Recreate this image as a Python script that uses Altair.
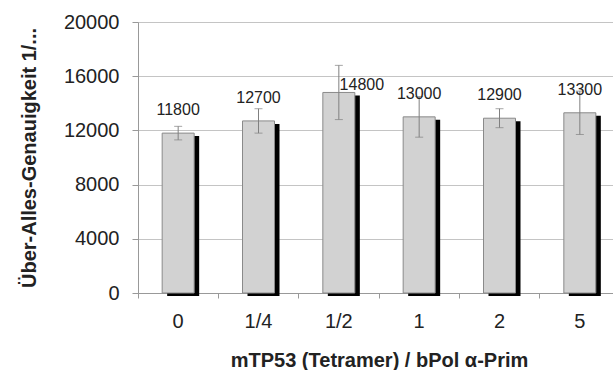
import altair as alt
import pandas as pd

categories = ["0", "1/4", "1/2", "1", "2", "5"]
values = [11800, 12700, 14800, 13000, 12900, 13300]
errors = [500, 900, 2000, 1500, 700, 1600]
labels = ["11800", "12700", "14800", "13000", "12900", "13300"]

df = pd.DataFrame({"cat": categories, "val": values, "err": errors, "lab": labels})

FONT = "Liberation Sans"

x = alt.X("cat:N", sort=categories,
          scale=alt.Scale(range=[0, 482], paddingInner=0, paddingOuter=0),
          axis=alt.Axis(title="mTP53 (Tetramer) / bPol α-Prim", labelAngle=0,
                        bandPosition=0, tickSize=5, labelPadding=13,
                        labelFontSize=20, labelColor="#222", labelFont=FONT,
                        titleFont=FONT, titleFontSize=20, titleFontWeight="bold",
                        titleColor="#222", titlePadding=19,
                        domainColor="#999", tickColor="#999"))
y = alt.Y("val:Q",
          scale=alt.Scale(domain=[0, 20000], nice=False),
          axis=alt.Axis(title="Über-Alles-Genauigkeit 1/...", values=list(range(0, 20001, 4000)),
                        format="d",
                        tickSize=6, labelPadding=13, labelFontSize=20, labelColor="#222",
                        labelFont=FONT, titleFont=FONT, titleFontSize=20,
                        titleFontWeight="bold", titleColor="#222", titlePadding=24,
                        domainColor="#999", tickColor="#999", gridColor="#c4c4c4"))

base = alt.Chart(df).transform_calculate(
    lo="datum.val - datum.err", hi="datum.val + datum.err")

shadow = base.mark_bar(size=32, color="black", xOffset=5, yOffset=3, y2Offset=3).encode(
    x=x, y=y)
bars = base.mark_bar(size=32, color="#d2d2d2", stroke="#8a8a8a", strokeWidth=1).encode(
    x=x, y=y)
rule = base.mark_rule(color="#808080", strokeWidth=1).encode(
    x=alt.X("cat:N", sort=categories), y="lo:Q", y2="hi:Q")
caps_lo = base.mark_tick(color="#808080", size=8, thickness=1, orient="horizontal").encode(
    x=alt.X("cat:N", sort=categories), y="lo:Q")
caps_hi = base.mark_tick(color="#808080", size=8, thickness=1, orient="horizontal").encode(
    x=alt.X("cat:N", sort=categories), y="hi:Q")
text_main = base.transform_filter(alt.datum.cat != "1/2").mark_text(
    dy=-23, fontSize=16, font=FONT, color="#222", baseline="middle").encode(
    x=alt.X("cat:N", sort=categories), y="val:Q", text="lab:N")
text_half = base.transform_filter(alt.datum.cat == "1/2").mark_text(
    dx=23, dy=-7, fontSize=16, font=FONT, color="#222", baseline="middle").encode(
    x=alt.X("cat:N", sort=categories), y="val:Q", text="lab:N")

chart = alt.layer(shadow, bars, rule, caps_lo, caps_hi, text_main, text_half).properties(
    width=475, height=271,
    autosize=alt.AutoSizeParams(type="none"),
    padding={"left": 138, "top": 22, "right": 0, "bottom": 77},
).configure_view(stroke=None).configure(background="white")

chart.save("out.html", embed_options={"renderer": "svg", "actions": False})
